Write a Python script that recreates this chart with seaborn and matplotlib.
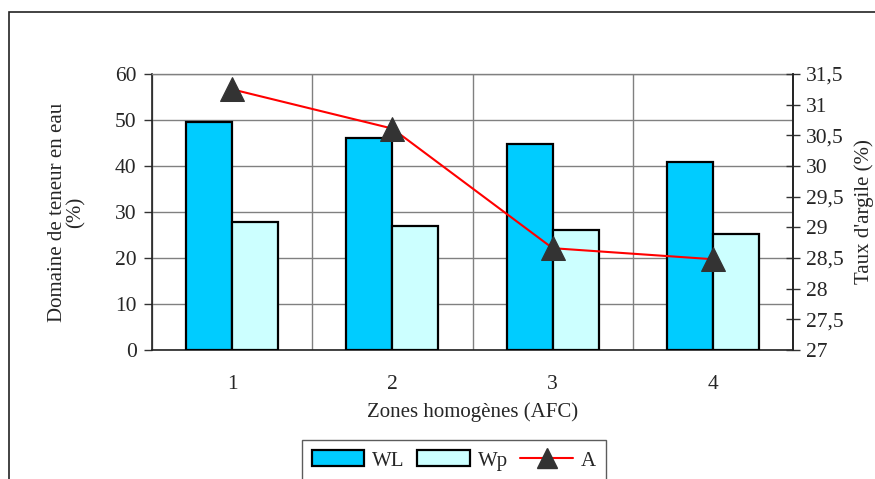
import numpy as np
import pandas as pd
import matplotlib
matplotlib.use("Agg")
import matplotlib.pyplot as plt
import matplotlib.patches as mpatches
import matplotlib.lines as mlines
import seaborn as sns

zones = ["1", "2", "3", "4"]
WL = [49.6, 46.1, 44.8, 40.9]
Wp = [27.8, 27.0, 26.1, 25.3]
A = [31.25, 30.61, 28.66, 28.48]
left_ticks = [0, 10, 20, 30, 40, 50, 60]
right_ticks = [27, 27.5, 28, 28.5, 29, 29.5, 30, 30.5, 31, 31.5]

sns.set_style("white")
plt.rcParams["font.family"] = ["Liberation Serif", "DejaVu Serif"]
FS = 15

df = pd.DataFrame({
    "zone": zones * 2,
    "value": WL + Wp,
    "serie": ["WL"] * len(zones) + ["Wp"] * len(zones),
})

W, H = 875, 479
fig = plt.figure(figsize=(W / 100, H / 100), dpi=100)
ax = fig.add_axes([152 / W, 1 - 350 / H, (793 - 152) / W, (350 - 74) / H])

c_wl, c_wp = "#00CCFF", "#CCFFFF"
sns.barplot(data=df, x="zone", y="value", hue="serie", order=zones,
            hue_order=["WL", "Wp"], palette=[c_wl, c_wp], width=0.575,
            edgecolor="black", linewidth=1.6, saturation=1, ax=ax,
            legend=False, zorder=3)
ax.set_xlim(-0.5, len(zones) - 0.5)
ax.set_ylim(0, 60)
ax.set_yticks(left_ticks)
ax.set_yticklabels([str(t) for t in left_ticks], fontsize=FS + 0.5)
ax.set_xticks(range(len(zones)))
ax.set_xticklabels(zones, fontsize=FS + 0.5)
ax.set_xticks(np.arange(-0.5, len(zones), 1.0), minor=True)
ax.tick_params(axis="x", which="major", length=0, pad=18)
ax.tick_params(axis="x", which="minor", direction="inout", length=10, width=1, color="#333333")
ax.tick_params(axis="y", direction="out", length=6, width=1, color="#333333", pad=5)
ax.grid(True, axis="y", color="#808080", lw=1, zorder=0)
ax.grid(True, axis="x", which="minor", color="#808080", lw=1, zorder=0)
ax.set_axisbelow(True)
ax.set_xlabel("Zones homogènes (AFC)", fontsize=FS, labelpad=6)
ax.set_ylabel("Domaine de teneur en eau\n(%)", fontsize=FS, labelpad=21, linespacing=1.0)
for s in ["left", "bottom", "right"]:
    ax.spines[s].set_color("#222222")
    ax.spines[s].set_linewidth(1.2)
ax.spines["top"].set_color("#808080")
ax.spines["top"].set_linewidth(1)

ax2 = ax.twinx()
sns.lineplot(x=np.arange(len(zones)), y=A, ax=ax2, color="red", lw=1.5,
             marker="^", markersize=17, markerfacecolor="#333333",
             markeredgecolor="#333333", zorder=5)
ax2.set_ylim(27, 31.5)
ax2.set_yticks(right_ticks)
ax2.set_yticklabels([f"{t:g}".replace(".", ",") for t in right_ticks], fontsize=FS + 0.5)
ax2.tick_params(axis="y", direction="inout", length=10, width=1, color="#333333", pad=4)
ax2.set_ylabel("Taux d'argile (%)", fontsize=FS, labelpad=8)
for s in ["left", "bottom", "top"]:
    ax2.spines[s].set_visible(False)
ax2.spines["right"].set_color("#222222")
ax2.spines["right"].set_linewidth(1.2)
ax2.set_xlim(-0.5, len(zones) - 0.5)

h1 = mpatches.Patch(facecolor=c_wl, edgecolor="black", lw=1.6, label="WL")
h2 = mpatches.Patch(facecolor=c_wp, edgecolor="black", lw=1.6, label="Wp")
h3 = mlines.Line2D([], [], color="red", lw=1.5, marker="^", markersize=14,
                   markerfacecolor="#333333", markeredgecolor="#333333", label="A")
leg = fig.legend(handles=[h1, h2, h3], loc="upper center", ncol=3,
                 bbox_to_anchor=(454 / W, 1 - 440 / H), fontsize=FS,
                 frameon=True, fancybox=False, edgecolor="#333333",
                 handlelength=2.5, handleheight=0.8, columnspacing=0.6,
                 handletextpad=0.4, borderpad=0.5, borderaxespad=0)
leg.get_frame().set_linewidth(1)

border = mpatches.Rectangle((9 / W, -0.1), 1.2, 1 - 12 / H + 0.1,
                            transform=fig.transFigure, fill=False,
                            lw=1.2, edgecolor="#222222", clip_on=False)
fig.patches.append(border)

fig.savefig("out.png", dpi=100, facecolor="white")
